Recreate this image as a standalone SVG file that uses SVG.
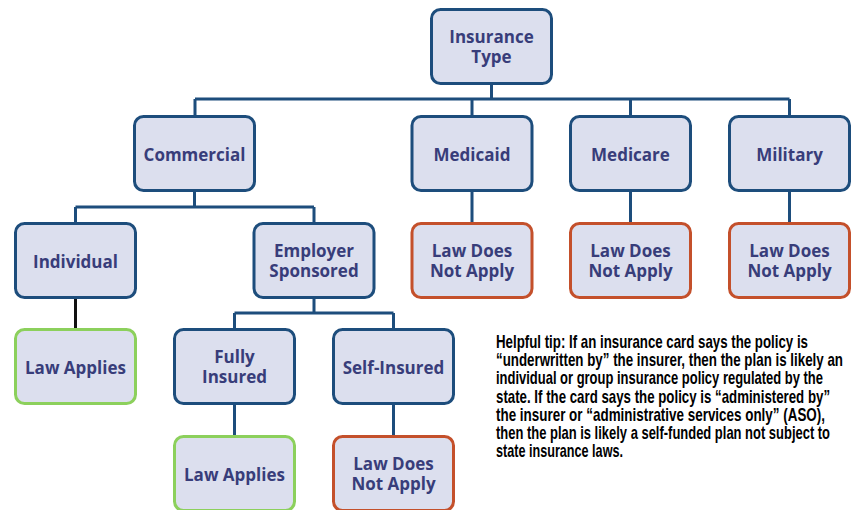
<svg xmlns="http://www.w3.org/2000/svg" width="858" height="510" viewBox="0 0 858 510">
  <style>
    .box { fill: #dcdfee; stroke-width: 3; }
    .blue { stroke: #1d4d7c; }
    .green { stroke: #8cd05c; }
    .red { stroke: #c4502b; }
    .lbl { font-family: "Open Sans", "Liberation Sans", sans-serif; font-weight: 700; font-size: 17px; fill: #383d7a; text-anchor: middle; }
    .wire { fill: none; stroke: #1d4d7c; stroke-width: 3; }
    .wire-dark { fill: none; stroke: #111; stroke-width: 3; }
    .tip { font-family: "Liberation Sans", Arial, sans-serif; font-weight: 700; font-size: 18px; fill: #000; }
  </style>

  <rect width="858" height="510" fill="#fff"/>

  <!-- connectors -->
  <g id="connectors">
    <path class="wire" d="M491.5,84 V99 M195,99 H789.5 M195,99 V115 M472,99 V115 M630.5,99 V115 M789.5,99 V115"/>
    <path class="wire" d="M194.5,191 V207 M75.5,207 H314 M75.5,207 V222 M314,207 V222"/>
    <path class="wire" d="M472,191 V222 M630.5,191 V222 M789.5,191 V222"/>
    <path class="wire-dark" d="M75.5,298 V328"/>
    <path class="wire" d="M314,298 V313 M234.5,313 H393.5 M234.5,313 V328 M393.5,313 V328"/>
    <path class="wire" d="M234.5,404 V435 M393.5,404 V435"/>
  </g>

  <!-- tree nodes -->
  <g id="insurance-type">
    <rect class="box blue" x="431.5" y="9.5" width="120" height="74" rx="9"/>
    <text class="lbl" x="491.5" y="43">Insurance<tspan x="491.5" dy="20">Type</tspan></text>
  </g>

  <g id="commercial">
    <rect class="box blue" x="134.5" y="116.5" width="120" height="74" rx="9"/>
    <text class="lbl" x="194.5" y="161">Commercial</text>
  </g>
  <g id="medicaid">
    <rect class="box blue" x="412" y="116.5" width="120" height="74" rx="9"/>
    <text class="lbl" x="472" y="161">Medicaid</text>
  </g>
  <g id="medicare">
    <rect class="box blue" x="570.5" y="116.5" width="120" height="74" rx="9"/>
    <text class="lbl" x="630.5" y="161">Medicare</text>
  </g>
  <g id="military">
    <rect class="box blue" x="729.5" y="116.5" width="120" height="74" rx="9"/>
    <text class="lbl" x="789.5" y="161">Military</text>
  </g>

  <g id="individual">
    <rect class="box blue" x="15.5" y="223.5" width="120" height="74" rx="9"/>
    <text class="lbl" x="75.5" y="268">Individual</text>
  </g>
  <g id="employer-sponsored">
    <rect class="box blue" x="254" y="223.5" width="120" height="74" rx="9"/>
    <text class="lbl" x="314" y="257">Employer<tspan x="314" dy="20">Sponsored</tspan></text>
  </g>
  <g id="medicaid-law">
    <rect class="box red" x="412" y="223.5" width="120" height="74" rx="9"/>
    <text class="lbl" x="472" y="257">Law Does<tspan x="472" dy="20">Not Apply</tspan></text>
  </g>
  <g id="medicare-law">
    <rect class="box red" x="570.5" y="223.5" width="120" height="74" rx="9"/>
    <text class="lbl" x="630.5" y="257">Law Does<tspan x="630.5" dy="20">Not Apply</tspan></text>
  </g>
  <g id="military-law">
    <rect class="box red" x="729.5" y="223.5" width="120" height="74" rx="9"/>
    <text class="lbl" x="789.5" y="257">Law Does<tspan x="789.5" dy="20">Not Apply</tspan></text>
  </g>

  <g id="individual-law">
    <rect class="box green" x="15.5" y="329.5" width="120" height="74" rx="9"/>
    <text class="lbl" x="75.5" y="374">Law Applies</text>
  </g>
  <g id="fully-insured">
    <rect class="box blue" x="174.5" y="329.5" width="120" height="74" rx="9"/>
    <text class="lbl" x="234.5" y="363">Fully<tspan x="234.5" dy="20">Insured</tspan></text>
  </g>
  <g id="self-insured">
    <rect class="box blue" x="333.5" y="329.5" width="120" height="74" rx="9"/>
    <text class="lbl" x="393.5" y="374">Self-Insured</text>
  </g>

  <g id="fully-insured-law">
    <rect class="box green" x="174.5" y="436.5" width="120" height="74" rx="9"/>
    <text class="lbl" x="234.5" y="481">Law Applies</text>
  </g>
  <g id="self-insured-law">
    <rect class="box red" x="333.5" y="436.5" width="120" height="74" rx="9"/>
    <text class="lbl" x="393.5" y="470">Law Does<tspan x="393.5" dy="20">Not Apply</tspan></text>
  </g>

  <!-- explanatory note, set in a horizontally condensed face -->
  <g id="tip" transform="translate(496 0) scale(0.74 1)">
    <text class="tip" x="0" y="348" textLength="421.6" lengthAdjust="spacingAndGlyphs">Helpful tip: If an insurance card says the policy is</text>
    <text class="tip" x="0" y="366.2" textLength="468.9" lengthAdjust="spacingAndGlyphs">“underwritten by” the insurer, then the plan is likely an</text>
    <text class="tip" x="0" y="384.4" textLength="441.9" lengthAdjust="spacingAndGlyphs">individual or group insurance policy regulated by the</text>
    <text class="tip" x="0" y="402.6" textLength="451.4" lengthAdjust="spacingAndGlyphs">state. If the card says the policy is “administered by”</text>
    <text class="tip" x="0" y="420.8" textLength="444.6" lengthAdjust="spacingAndGlyphs">the insurer or “administrative services only” (ASO),</text>
    <text class="tip" x="0" y="439" textLength="451.4" lengthAdjust="spacingAndGlyphs">then the plan is likely a self-funded plan not subject to</text>
    <text class="tip" x="0" y="457" textLength="171.6" lengthAdjust="spacingAndGlyphs">state insurance laws.</text>
  </g>
</svg>
